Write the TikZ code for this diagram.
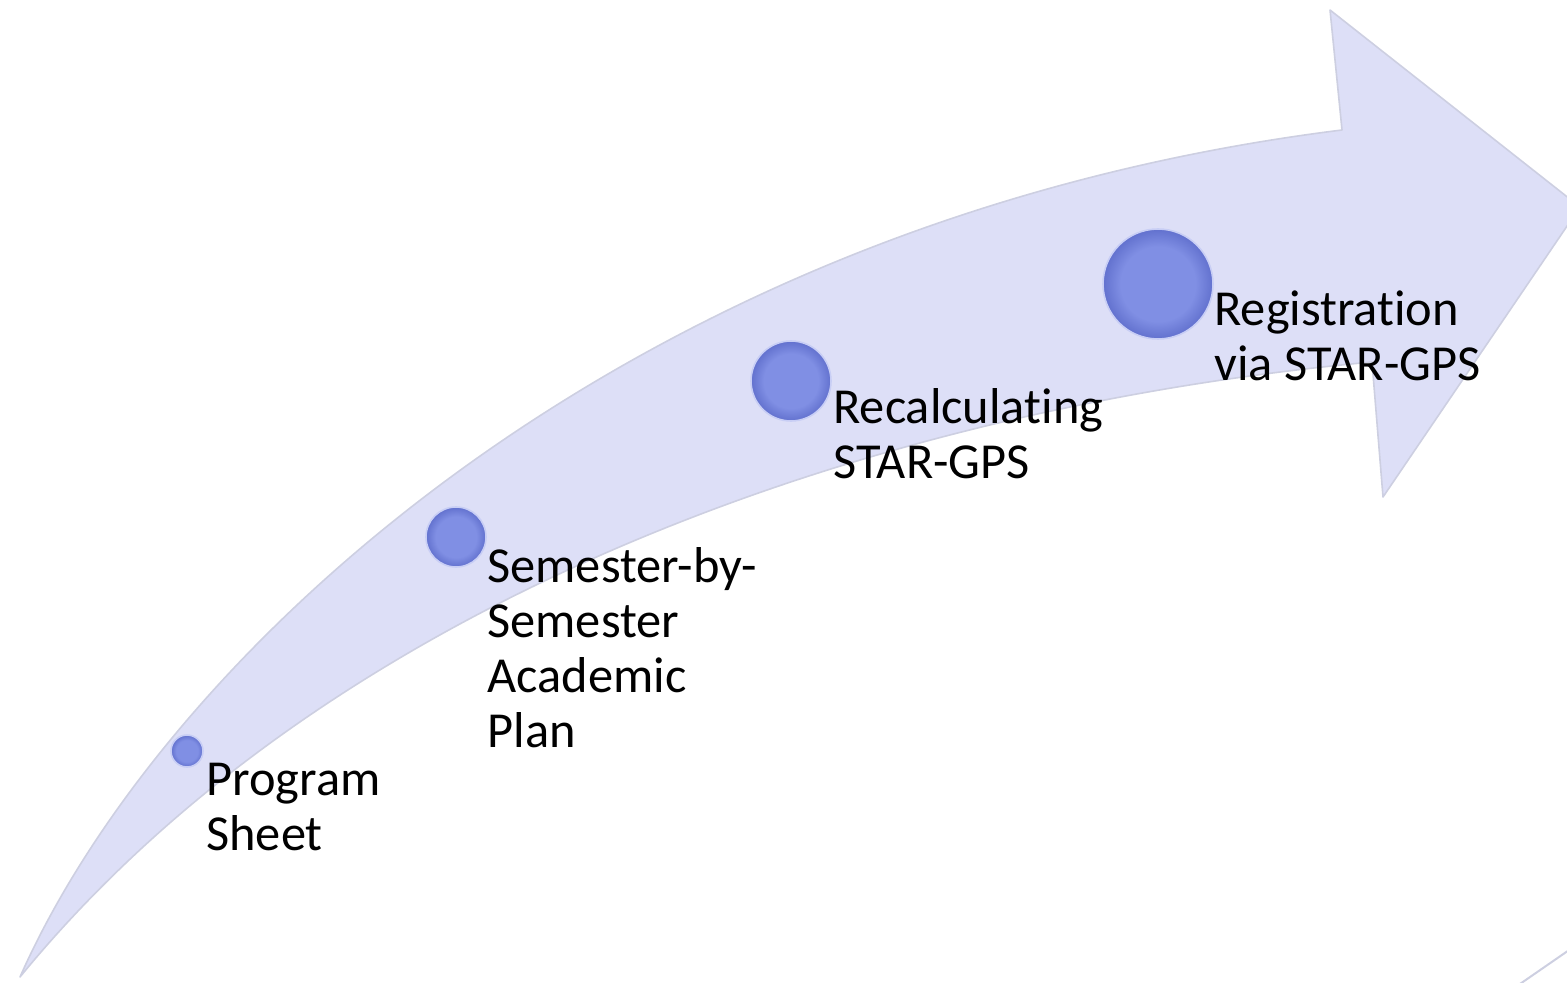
\documentclass[tikz,border=0pt]{standalone}
\usepackage{fontspec}
\setmainfont[Ligatures=NoCommon]{Carlito}

\definecolor{bandfill}{RGB}{221,223,247}
\definecolor{bandline}{RGB}{205,207,225}
\definecolor{dotin}{RGB}{128,143,228}
\definecolor{dotout}{RGB}{98,113,206}
\definecolor{dothalo}{RGB}{200,206,245}
\pgfdeclareradialshading{dotshade}{\pgfpoint{0bp}{0bp}}{color(0bp)=(dotin); color(17bp)=(dotin); color(25bp)=(dotout); color(50bp)=(dotout)}

\begin{document}
\begin{tikzpicture}[x=0.5pt,y=-0.5pt,
    band/.style={fill=bandfill,draw=bandline,line width=0.8pt,line join=round},
    dot/.style={circle,shade,shading=dotshade,draw=dothalo,line width=0.8pt,inner sep=0pt},
    steptext/.style={anchor=base west,align=left,inner sep=0pt,font=\fontsize{25.2}{27.5}\selectfont}]
        \useasboundingbox (0,0) rectangle (1567,983);
        \clip (0,0) rectangle (1567,983);

        % Curved arrow
        \draw[band] (20,977) .. controls (160,660) and (620,220) .. (1342,130)
            -- (1330,10) -- (1580,207) -- (1383,497) -- (1372,362)
            .. controls (850,410) and (320,610) .. (20,977) -- cycle;

        % Stray edge in the corner
        \draw[bandline,line width=1pt] (1517,986) -- (1572,948);

        % Dots along the arrow
        \node[dot,minimum size=16pt] (progDot) at (187,751) {};
        \node[dot,minimum size=30pt] (planDot) at (456,537) {};
        \node[dot,minimum size=40pt] (recalcDot) at (791,381) {};
        \node[dot,minimum size=55pt] (regDot) at (1158,284) {};

        % Step labels (placed at the baseline of their last line)
        \node[steptext] (progText) at (206,850) {Program\\Sheet};
        \node[steptext] (planText) at (487,747) {Semester-by-\\Semester\\Academic\\Plan};
        \node[steptext] (recalcText) at (833,479) {Recalculating\\STAR-GPS};
        \node[steptext] (regText) at (1214,381) {Registration\\via STAR-GPS};

\end{tikzpicture}
\end{document}
